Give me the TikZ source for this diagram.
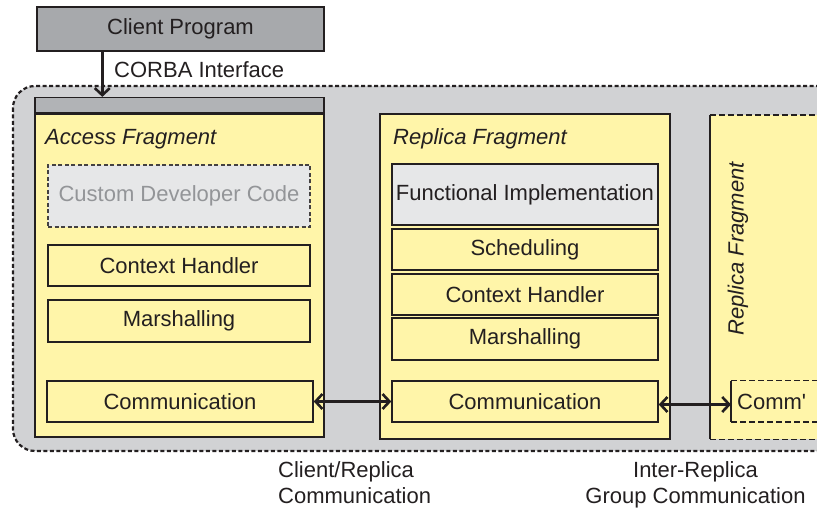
\documentclass[tikz,border=0pt]{standalone}
\usepackage{fontspec}
\setmainfont{Liberation Sans}
\usetikzlibrary{arrows.meta,calc}
\definecolor{yel}{HTML}{FFF5A9}
\definecolor{outerbg}{HTML}{D1D2D4}
\definecolor{clientgrey}{HTML}{A7A9AC}
\definecolor{hdrgrey}{HTML}{B1B3B6}
\definecolor{lightbox}{HTML}{E6E7E8}
\definecolor{ink}{HTML}{231F20}
\definecolor{ghost}{HTML}{939598}
\begin{document}
\begin{tikzpicture}[x=1pt,y=-1pt,
  every node/.style={font=\fontsize{22}{26}\selectfont, text=ink},
  layer/.style={draw=ink, line width=1.4pt, fill=yel, inner sep=0pt, minimum width=266, minimum height=41},
  frag/.style={draw=ink, line width=1.4pt, fill=yel, inner sep=0pt},
  fraglabel/.style={font=\fontsize{22}{26}\selectfont\itshape, inner sep=0pt},
  conn/.style={line width=2.6pt, draw=ink, {Straight Barb[length=7pt,width=15pt]}-{Straight Barb[length=7pt,width=15pt]}},
  feed/.style={line width=2.6pt, draw=ink, -{Straight Barb[length=7pt,width=15pt]}},
  outerline/.style={draw=ink, line width=2.2pt, dash pattern=on 4pt off 2.5pt},
  edgedash/.style={draw=ink, line width=1.4pt, dash pattern=on 6pt off 3pt}
]
\useasboundingbox (0,0) rectangle (817,510);
\clip (0,0) rectangle (817,510);

% outer region
\draw[outerline, fill=outerbg, rounded corners=22] (13,86) rectangle (860,451);

% client
\node[draw=ink, line width=1.4pt, fill=clientgrey, minimum width=287, minimum height=44, inner sep=0pt] (client) at (180.5,29) {Client Program};

% access fragment
\node[frag, minimum width=289, minimum height=323] (acc) at (179.5,275.5) {};
\node[frag, fill=hdrgrey, minimum width=289, minimum height=15, anchor=south] (acchead) at (acc.north) {};
\node[fraglabel, anchor=base west] (acclabel) at (45,145) {Access Fragment};
\node[layer, fill=lightbox, draw=ink!85, dash pattern=on 4pt off 2.5pt, minimum width=262, minimum height=62, text=ghost] (custom) at (179,196) {Custom Developer Code};
\node[layer, minimum width=262] (ctx1) at (179,265.5) {Context Handler};
\node[layer, minimum width=262, minimum height=42] (mar1) at (179,321) {Marshalling};
\node[layer] (com1) at (180,401.5) {Communication};

% replica fragment
\node[frag, minimum width=290, minimum height=325] (rep) at (525,276.5) {};
\node[fraglabel, anchor=base west] (replabel) at (393,145) {Replica Fragment};
\node[layer, fill=lightbox, minimum height=61] (func) at (525,194.5) {Functional Implementation};
\node[layer] (sched) at (525,249.5) {Scheduling};
\node[layer] (ctx2) at (525,294.5) {Context Handler};
\node[layer, minimum height=42] (mar2) at (525,339) {Marshalling};
\node[layer] (com2) at (525,401.5) {Communication};

% third (partial) replica fragment
\node[fill=yel, minimum width=150, minimum height=324, anchor=north west, inner sep=0pt] (frag3) at (710,115) {};
\draw[draw=ink, line width=1.4pt] (frag3.north west) -- (frag3.south west);
\draw[edgedash] (frag3.north west) -- (frag3.north east);
\draw[edgedash] (frag3.south west) -- (frag3.south east);
\node[fraglabel, rotate=90] (frag3label) at (738,249) {Replica Fragment};
\node[anchor=west, inner xsep=6pt, inner ysep=0pt, minimum height=41] (comm3) at (731,401.5) {Comm\textquotesingle};
\draw[draw=ink, line width=1.4pt] (comm3.north west) -- (comm3.south west);
\draw[edgedash] (comm3.north west) -- ++(120,0);
\draw[edgedash] (comm3.south west) -- ++(120,0);

% connectors
\draw[feed] ($(client.south west)+(66,0)$) -- ($(acchead.north west)+(68,0)$);
\node[anchor=west, inner sep=0pt] (corba) at (114,70) {CORBA Interface};
\draw[conn] (com1.east) -- (com2.west);
\draw[conn] ($(com2.east)+(0,3)$) -- ($(comm3.west)+(0,3)$);

% bottom labels
\node[anchor=north west, align=left, inner sep=0pt] (crlabel) at (278,461) {Client/Replica\\Communication};
\node[anchor=north, align=center, inner sep=0pt] (irlabel) at (695.5,461) {Inter-Replica\\Group Communication};
\end{tikzpicture}
\end{document}
